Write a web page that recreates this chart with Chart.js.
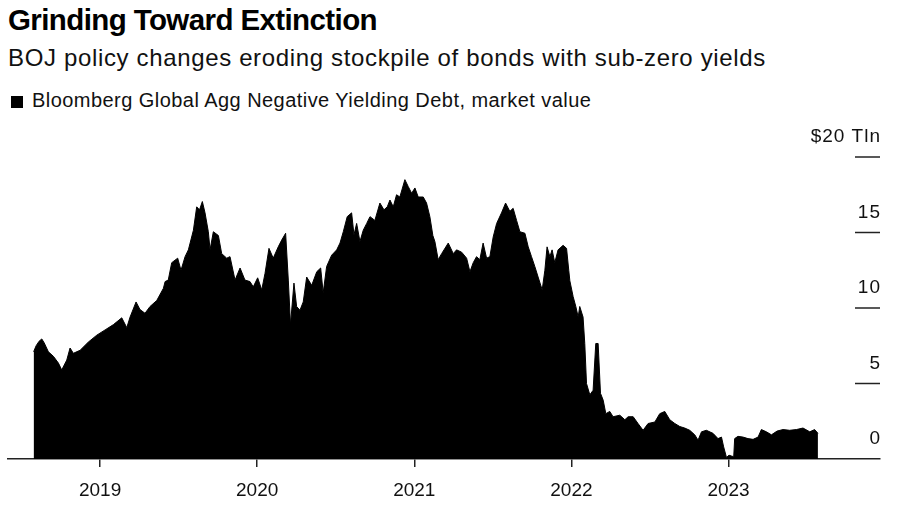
<!DOCTYPE html>
<html>
<head>
<meta charset="utf-8">
<script src="https://cdn.jsdelivr.net/npm/chart.js@4.4.0/dist/chart.umd.min.js"></script>
<style>
  html, body { margin: 0; padding: 0; background: #fff; }
  body { width: 900px; height: 510px; position: relative; overflow: hidden; font-family: "Liberation Sans", Arial, sans-serif; color: #000; }
  #title { position: absolute; left: 8px; top: 5px; font-size: 29.5px; line-height: 30px; font-weight: bold; letter-spacing: -0.6px; white-space: nowrap; }
  #subtitle { position: absolute; left: 8px; top: 46px; font-size: 24px; line-height: 24px; letter-spacing: 0.65px; white-space: nowrap; color: #111; }
  #legend { position: absolute; left: 11px; top: 90px; font-size: 20px; line-height: 20px; letter-spacing: 0.45px; white-space: nowrap; color: #111; }
  #legend span.box { display: inline-block; width: 12px; height: 12px; background: #000; margin-right: 9px; vertical-align: -1px; }
  #canvas { position: absolute; left: 0; top: 0; }
</style>
</head>
<body>
<div id="title">Grinding Toward Extinction</div>
<div id="subtitle">BOJ policy changes eroding stockpile of bonds with sub-zero yields</div>
<div id="legend"><span class="box"></span>Bloomberg Global Agg Negative Yielding Debt, market value</div>
<canvas id="canvas" width="900" height="510"></canvas>
<script>
// dates as decimal years, values in $ trillions
var dates = [
  2018.577, 2018.593, 2018.612, 2018.629, 2018.644, 2018.671, 2018.703, 2018.735, 2018.756, 2018.788, 2018.809, 2018.830, 2018.873, 2018.926, 2018.979,
  2019.032, 2019.085, 2019.138, 2019.170, 2019.191, 2019.229, 2019.254, 2019.286, 2019.318, 2019.361, 2019.403, 2019.414, 2019.434, 2019.456, 2019.494,
  2019.515, 2019.541, 2019.562, 2019.594, 2019.615, 2019.633, 2019.651, 2019.668, 2019.689, 2019.700, 2019.721, 2019.753, 2019.774, 2019.806, 2019.827,
  2019.859, 2019.891, 2019.922, 2019.954, 2019.975,
  2020.003, 2020.029, 2020.050, 2020.075, 2020.102, 2020.134, 2020.156, 2020.181, 2020.198, 2020.212, 2020.234, 2020.251, 2020.272, 2020.293, 2020.315,
  2020.347, 2020.379, 2020.404, 2020.420, 2020.442, 2020.474, 2020.506, 2020.527, 2020.548, 2020.573, 2020.601, 2020.616, 2020.633, 2020.654, 2020.675,
  2020.697, 2020.718, 2020.749, 2020.781, 2020.807, 2020.828, 2020.845, 2020.866, 2020.887, 2020.908, 2020.940, 2020.961, 2020.983,
  2021.004, 2021.025, 2021.057, 2021.078, 2021.099, 2021.118, 2021.131, 2021.152, 2021.174, 2021.216, 2021.248, 2021.269, 2021.301, 2021.333, 2021.354,
  2021.375, 2021.396, 2021.417, 2021.438, 2021.460, 2021.481, 2021.502, 2021.524, 2021.555, 2021.581, 2021.608, 2021.629, 2021.651, 2021.672, 2021.704,
  2021.725, 2021.746, 2021.767, 2021.788, 2021.814, 2021.831, 2021.845, 2021.863, 2021.877, 2021.894, 2021.915, 2021.947, 2021.969, 2021.983, 2021.990,
  2022.011, 2022.028, 2022.043, 2022.053, 2022.074, 2022.085, 2022.096, 2022.117, 2022.138, 2022.155, 2022.170, 2022.185, 2022.202, 2022.219, 2022.244,
  2022.265, 2022.308, 2022.340, 2022.361, 2022.393, 2022.424, 2022.456, 2022.488, 2022.531, 2022.562, 2022.594, 2022.626, 2022.658, 2022.690, 2022.721,
  2022.753, 2022.785, 2022.806, 2022.828, 2022.859, 2022.901, 2022.933, 2022.955, 2022.969, 2022.987,
  2023.003, 2023.018, 2023.033, 2023.039, 2023.060, 2023.092, 2023.124, 2023.156, 2023.188, 2023.209, 2023.241, 2023.273, 2023.309, 2023.347, 2023.389,
  2023.432, 2023.474, 2023.517, 2023.548, 2023.569
];
var values = [
  7.1, 7.5, 7.8, 7.95, 7.7, 7.1, 6.8, 6.35, 5.9, 6.55, 7.35, 7.0, 7.2, 7.75, 8.2,
  8.55, 8.9, 9.35, 8.7, 9.4, 10.4, 9.9, 9.65, 10.1, 10.5, 11.3, 11.75, 11.85, 13.0, 13.3,
  12.5, 13.4, 13.85, 15.15, 16.7, 16.5, 17.05, 16.3, 15.05, 13.85, 15.05, 14.8, 13.6, 13.3, 13.4,
  11.85, 12.65, 11.85, 11.75, 11.4,
  12.0, 11.2, 12.3, 13.95, 13.3, 14.05, 14.5, 14.95, 11.85, 8.9, 11.65, 10.1, 9.85, 10.4, 12.05,
  11.5, 12.4, 12.65, 11.0, 12.75, 13.5, 13.85, 14.3, 15.05, 16.05, 16.3, 14.85, 15.6, 14.4, 15.15,
  15.6, 16.05, 15.8, 16.95, 16.5, 16.7, 17.15, 16.7, 17.5, 17.35, 18.5, 18.05, 17.6,
  17.95, 17.35, 17.35, 16.95, 16.05, 14.8, 14.4, 13.2, 13.6, 14.3, 13.6, 13.85, 13.7, 13.3, 12.4,
  13.0, 13.4, 13.2, 14.3, 13.3, 13.4, 14.7, 15.6, 16.3, 16.95, 16.4, 16.6, 15.8, 15.05, 14.95,
  14.05, 13.4, 12.75, 12.05, 11.2, 12.5, 14.05, 13.4, 13.85, 13.0, 13.85, 14.15, 13.95, 12.5, 11.8,
  10.75, 10.1, 9.4, 10.1, 9.4, 7.65, 5.0, 4.25, 4.55, 7.65, 7.65, 4.35, 3.9, 3.0, 3.15,
  2.8, 2.9, 2.6, 2.8, 2.8, 2.35, 1.9, 2.35, 2.45, 3.0, 3.15, 2.6, 2.35, 2.15, 2.05,
  1.9, 1.6, 1.25, 1.8, 1.9, 1.7, 1.35, 1.45, 0.8, 0.1,
  0.25, 0.2, 0.15, 1.35, 1.5, 1.45, 1.35, 1.3, 1.45, 1.95, 1.8, 1.6, 1.85, 1.95, 1.9,
  1.95, 2.05, 1.8, 1.95, 1.7
];
var yearTicks = [2019, 2020, 2021, 2022, 2023];
var yTicks = [0, 5, 10, 15, 20];
var yLabels = ['0', '5', '10', '15', '$20 Tln'];

var rightAxis = {
  id: 'rightAxis',
  afterDraw: function(chart) {
    var c = chart.ctx, y = chart.scales.y, right = chart.chartArea.right;
    c.save();
    c.strokeStyle = '#222';
    c.lineWidth = 1.5;
    c.fillStyle = '#111';
    c.font = '19px "Liberation Sans", Arial, sans-serif';
    c.letterSpacing = '1px';
    c.textAlign = 'right';
    c.textBaseline = 'middle';
    yTicks.forEach(function(v, i) {
      var py = y.getPixelForValue(v);
      if (v > 0) {
        c.beginPath();
        c.moveTo(right - 25, py);
        c.lineTo(right, py);
        c.stroke();
      }
      c.fillText(yLabels[i], right + 1, py - 20);
    });
    c.restore();
  }
};

const ctx = document.getElementById('canvas').getContext('2d');
const myChart = new Chart(ctx, {
  type: 'line',
  data: {
    datasets: [{
      data: dates.map(function(d, i) { return { x: d, y: values[i] }; }),
      fill: 'origin',
      backgroundColor: '#000',
      borderColor: '#000',
      borderWidth: 1,
      borderJoinStyle: 'miter',
      pointRadius: 0,
      tension: 0
    }]
  },
  options: {
    responsive: false,
    animation: false,
    layout: { padding: { left: 8, right: 20, top: 157, bottom: 0 } },
    plugins: { legend: { display: false }, tooltip: { enabled: false } },
    scales: {
      x: {
        type: 'linear',
        min: 2018.414,
        max: 2023.964,
        afterBuildTicks: function(s) { s.ticks = yearTicks.map(function(v) { return { value: v }; }); },
        afterFit: function(s) { s.height = 51; },
        grid: { drawOnChartArea: false, tickLength: 8, color: '#222', lineWidth: 1.5 },
        border: { display: true, color: '#222', width: 1.5 },
        ticks: {
          padding: 12,
          color: '#111',
          font: { family: '"Liberation Sans", Arial, sans-serif', size: 19 },
          maxRotation: 0,
          callback: function(v) { return String(v); }
        }
      },
      y: { min: 0, max: 20, display: false }
    }
  },
  plugins: [rightAxis]
});
</script>
</body>
</html>
